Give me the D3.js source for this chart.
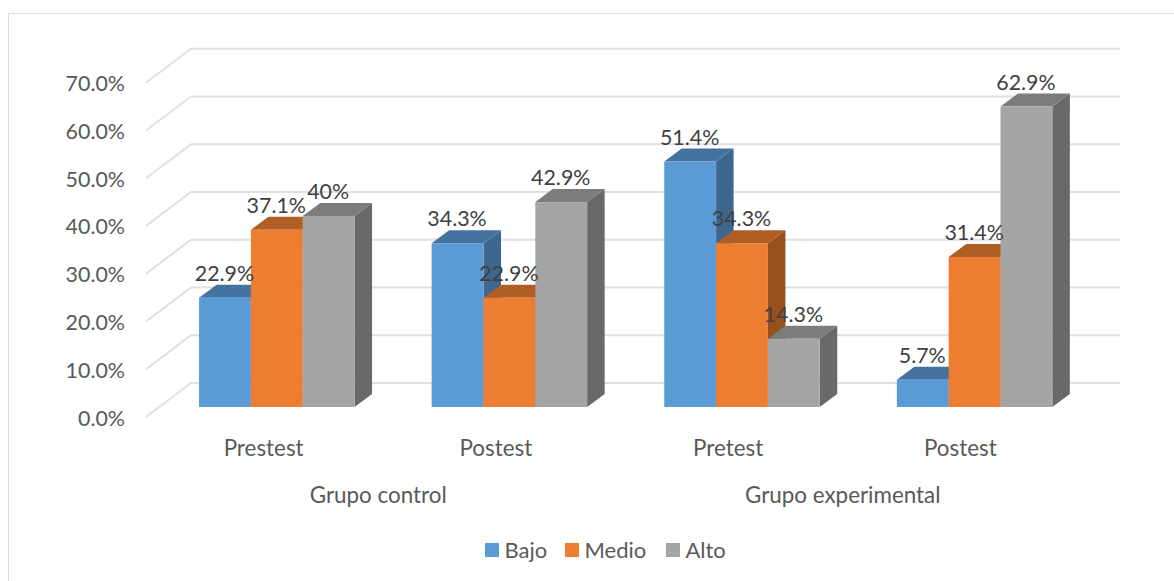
<!DOCTYPE html>
<html>
<head>
<meta charset="utf-8">
<script src="https://cdn.jsdelivr.net/npm/d3@7/dist/d3.min.js"></script>
<style>
html,body{margin:0;padding:0;background:#fff;}
svg{display:block;}
text{font-family:Lato,"Open Sans",sans-serif;}
</style>
</head>
<body>
<svg id="chart" width="1174" height="581"></svg>
<script>
// Chart data
const categories = ["Prestest", "Postest", "Pretest", "Postest"];
const groups = ["Grupo control", "Grupo experimental"];
const seriesNames = ["Bajo", "Medio", "Alto"];
const bajo = [22.9, 34.3, 51.4, 5.7];
const medio = [37.1, 22.9, 34.3, 31.4];
const alto = [40, 42.9, 14.3, 62.9];
const yTicks = [0, 10, 20, 30, 40, 50, 60, 70];
const seriesValues = [bajo, medio, alto];

// Front, top and side shades per series
const frontColors = ["#5b9bd5", "#ed7d31", "#a5a5a5"];
const topColors = ["#44739f", "#b15e25", "#7c7c7c"];
const sideColors = ["#3d678f", "#98501f", "#696969"];

const svg = d3.select("#chart");
const width = 1174, height = 581;

// Outer chart frame (open on the right and bottom)
svg.append("path")
  .attr("d", `M8.5,${height}V13.5H${width}`)
  .attr("fill", "none").attr("stroke", "#dddddd").attr("stroke-width", 1.2);

// Oblique projection: front plane of the axis, shifted for the back wall
const wallDx = 45, wallDy = -34;
const y = d3.scaleLinear().domain([0, 70]).range([417, 82.7]);
const x = d3.scaleBand().domain(d3.range(categories.length)).range([146, 1075]);

// Bars sit part way into the floor, so they have their own horizontal scale
const barBand = d3.scaleBand().domain(d3.range(categories.length)).range([160.5, 1090.9]);
const inner = d3.scaleBand().domain(d3.range(seriesNames.length)).range([0, 155.5]);
const barDy = -10;
const depthX = 17.5, depthY = -13;

// Gridlines: diagonal on the side wall, then horizontal on the back wall
svg.append("g").selectAll("path").data(yTicks).join("path")
  .attr("d", d => {
    const y0 = y(d);
    return `M${x.range()[0]},${y0}L${x.range()[0] + wallDx},${y0 + wallDy}H${x.range()[1] + wallDx}`;
  })
  .attr("fill", "none").attr("stroke", "#e0e0e0").attr("stroke-width", 2);

// Value axis labels
svg.append("g").selectAll("text").data(yTicks).join("text")
  .attr("x", 125).attr("y", d => y(d) + 8.5)
  .attr("text-anchor", "end").attr("font-size", 21.4).attr("fill", "#595959")
  .text(d => d.toFixed(1) + "%");

// Bars, left to right so that each one overlaps its neighbour's side
const barsLayer = svg.append("g");
const labelItems = [];
categories.forEach((c, ci) => {
  const start = barBand(ci) + (barBand.bandwidth() - inner.range()[1]) / 2;
  seriesNames.forEach((s, si) => {
    const v = seriesValues[si][ci];
    const x0 = start + inner(si), x1 = x0 + inner.bandwidth();
    const yb = y(0) + barDy, yt = y(v) + barDy;
    const g = barsLayer.append("g");
    g.append("path")
      .attr("d", `M${x1},${yb}V${yt}l${depthX},${depthY}V${yb + depthY}Z`)
      .attr("fill", sideColors[si]);
    g.append("path")
      .attr("d", `M${x0},${yt}l${depthX},${depthY}H${x1 + depthX}L${x1},${yt}Z`)
      .attr("fill", topColors[si]);
    g.append("rect")
      .attr("x", x0).attr("y", yt)
      .attr("width", x1 - x0).attr("height", yb - yt)
      .attr("fill", frontColors[si]);
    labelItems.push({ x: (x0 + x1) / 2 - 0.5, y: yt - 17, v });
  });
});

// Data labels
svg.append("g").selectAll("text").data(labelItems).join("text")
  .attr("x", d => d.x).attr("y", d => d.y)
  .attr("text-anchor", "middle").attr("font-size", 21.4).attr("fill", "#404040")
  .text(d => d.v + "%");

// Category labels, first level
svg.append("g").selectAll("text").data(categories).join("text")
  .attr("x", (d, i) => x(i) + x.bandwidth() / 2 + 1.5).attr("y", 456)
  .attr("text-anchor", "middle").attr("font-size", 22.4).attr("fill", "#595959")
  .text(d => d);

// Category labels, group level
svg.append("g").selectAll("text").data(groups).join("text")
  .attr("x", (d, i) => x(i * 2) + x.bandwidth())
  .attr("y", 503)
  .attr("text-anchor", "middle").attr("font-size", 22.4).attr("fill", "#595959")
  .text(d => d);

// Legend
const legendX = [485, 565, 666];
const legend = svg.append("g").selectAll("g").data(seriesNames).join("g")
  .attr("transform", (d, i) => `translate(${legendX[i]},543)`);
legend.append("rect").attr("width", 14).attr("height", 14)
  .attr("fill", (d, i) => frontColors[i]);
legend.append("text").attr("x", 19.5).attr("y", 15)
  .attr("font-size", 22).attr("fill", "#595959").text(d => d);
</script>
</body>
</html>
